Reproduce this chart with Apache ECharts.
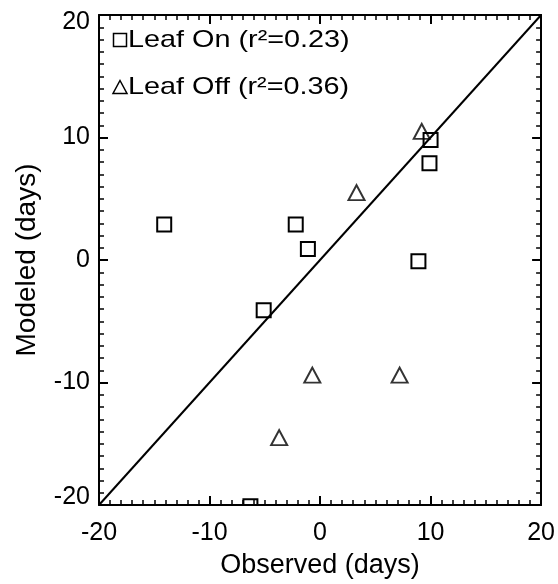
<!DOCTYPE html>
<html>
<head>
<meta charset="utf-8">
<script src="https://cdn.jsdelivr.net/npm/echarts@6/dist/echarts.min.js"></script>
<style>
  html, body { margin: 0; padding: 0; background: #fff; }
  #chart { width: 558px; height: 584px; }
</style>
</head>
<body>
<div id="chart"></div>
<script>
// Leaf-on phenology anomalies (days): observed vs modeled
const leafOnObserved = [-14.1, -2.2, -1.1, 8.9, 10.0, 9.9, -5.1, -6.3];
const leafOnModeled  = [2.9, 2.9, 0.9, -0.1, 9.8, 7.9, -4.1, -20.1];
// Leaf-off phenology anomalies (days)
const leafOffObserved = [9.2, 3.3, -0.7, 7.2, -3.7];
const leafOffModeled  = [10.5, 5.5, -9.4, -9.4, -14.5];
// 1:1 reference line end points
const oneToOneX = [-20, 20];
const oneToOneY = [-20, 20];
// Axis range and tick step
const axisMin = -20;
const axisMax = 20;
const tickStep = 10;
// Legend labels
const seriesNames = ['Leaf On', 'Leaf Off'];
const seriesR2 = ['0.23', '0.36'];

const pairs = (xs, ys) => xs.map((x, i) => [x, ys[i]]);
const FONT = '"Liberation Sans", Arial, Helvetica, sans-serif';
const FS = 25;

const baseAxis = {
  min: axisMin,
  max: axisMax,
  interval: tickStep,
  axisLine: { show: true, onZero: false, lineStyle: { color: '#000', width: 2 } },
  axisTick: { show: true, inside: true, length: 9, lineStyle: { color: '#000', width: 2 } },
  minorTick: { show: true, splitNumber: 10, length: 5, lineStyle: { color: '#000', width: 1.5 } },
  splitLine: { show: false },
  minorSplitLine: { show: false }
};

const labelText = { fontSize: FS, color: '#000', fontFamily: FONT };

// Key in the upper-left corner: symbol glyph followed by a wide label
const legendLabel = i => seriesNames[i] + ' (r\u00B2=' + seriesR2[i] + ')';
const legendTextStyle = {
  font: '24px "Liberation Sans", Arial, sans-serif',
  fill: '#000',
  textAlign: 'left',
  textVerticalAlign: 'middle'
};
const keyGraphics = [
  {
    type: 'rect',
    shape: { x: 113.5, y: 33.5, width: 13, height: 13 },
    style: { fill: 'none', stroke: '#000', lineWidth: 1.5 }
  },
  {
    type: 'text', x: 128, y: 40, scaleX: 1.2,
    style: Object.assign({ text: legendLabel(0) }, legendTextStyle)
  },
  {
    type: 'polygon',
    shape: { points: [[120, 80.5], [127, 93.5], [113, 93.5]] },
    style: { fill: 'none', stroke: '#000', lineWidth: 1.5 }
  },
  {
    type: 'text', x: 128, y: 87, scaleX: 1.2,
    style: Object.assign({ text: legendLabel(1) }, legendTextStyle)
  }
];

const chart = echarts.init(document.getElementById('chart'), null, { renderer: 'canvas' });
chart.setOption({
  animation: false,
  backgroundColor: '#fff',
  textStyle: { fontFamily: FONT },
  grid: { left: 99, right: 16, top: 15, bottom: 74, containLabel: false },
  graphic: keyGraphics,
  xAxis: [
    Object.assign({}, baseAxis, {
      type: 'value',
      position: 'bottom',
      name: 'Observed (days)',
      nameLocation: 'middle',
      nameGap: 47,
      nameTextStyle: { fontSize: 27, color: '#000', fontFamily: FONT },
      axisLabel: Object.assign({ margin: 16, showMinLabel: true, showMaxLabel: true }, labelText)
    }),
    Object.assign({}, baseAxis, {
      type: 'value',
      position: 'top',
      axisLabel: { show: false }
    })
  ],
  yAxis: [
    Object.assign({}, baseAxis, {
      type: 'value',
      position: 'left',
      name: 'Modeled (days)',
      nameLocation: 'middle',
      nameGap: 58,
      nameTextStyle: { fontSize: 28, color: '#000', fontFamily: FONT },
      axisLabel: Object.assign({
        margin: 9,
        showMinLabel: true,
        showMaxLabel: true,
        // end labels sit just inside the frame
        formatter: v => v === axisMax ? '{hi|' + v + '}' : v === axisMin ? '{lo|' + v + '}' : String(v),
        rich: {
          hi: Object.assign({ padding: [15, 0, 0, 0] }, labelText),
          lo: Object.assign({ padding: [0, 0, 15, 0] }, labelText)
        }
      }, labelText)
    }),
    Object.assign({}, baseAxis, {
      type: 'value',
      position: 'right',
      axisLabel: { show: false }
    })
  ],
  series: [
    {
      name: '1:1',
      type: 'line',
      data: pairs(oneToOneX, oneToOneY),
      symbol: 'none',
      lineStyle: { color: '#000', width: 2 },
      z: 1
    },
    {
      name: seriesNames[0],
      type: 'custom',
      clip: true,
      data: pairs(leafOnObserved, leafOnModeled),
      renderItem: (params, api) => {
        const p = api.coord([api.value(0), api.value(1)]);
        const s = 14;
        return {
          type: 'rect',
          shape: { x: p[0] - s / 2, y: p[1] - s / 2, width: s, height: s },
          style: { fill: 'none', stroke: '#000', lineWidth: 2 }
        };
      },
      z: 3
    },
    {
      name: seriesNames[1],
      type: 'scatter',
      data: pairs(leafOffObserved, leafOffModeled),
      symbol: 'triangle',
      symbolSize: [16, 15],
      itemStyle: { color: 'rgba(0,0,0,0)', borderColor: '#000', borderWidth: 2 },
      z: 3
    }
  ]
});
</script>
</body>
</html>
